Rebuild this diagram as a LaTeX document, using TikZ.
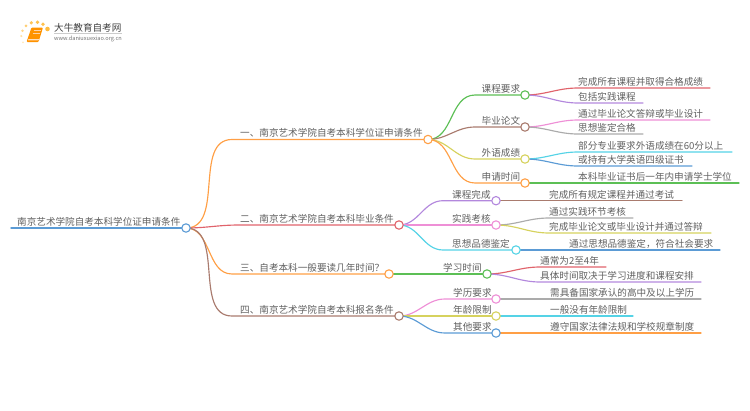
\documentclass[tikz,border=0pt]{standalone}
\usepackage{fontspec}
\setmainfont{Noto Sans CJK SC}
\usetikzlibrary{backgrounds}
\definecolor{cOrange}{HTML}{FF9F45}
\definecolor{cRed}{HTML}{E0636B}
\definecolor{cBrown}{HTML}{A97B6E}
\definecolor{cGreen}{HTML}{5CBF55}
\definecolor{cYellow}{HTML}{D6D25E}
\definecolor{cPurple}{HTML}{B388DD}
\definecolor{cPink}{HTML}{EE8FD6}
\definecolor{cGrey}{HTML}{ABABAB}
\definecolor{cCyan}{HTML}{55D3E6}
\definecolor{cBlue}{HTML}{5B9BD5}
\definecolor{cText}{HTML}{606060}
\tikzset{
  dot/.style={circle,draw=#1,fill=white,line width=1.1pt,minimum size=8.4pt,inner sep=0pt},
  lab/.style={anchor=base west,inner sep=0pt,text=cText,font=\fontsize{9.6pt}{10pt}\selectfont},
  conn/.style={draw=#1,line width=1.15pt,line cap=round},
  logodot/.style={circle,inner sep=0pt,fill=#1}
}
% \mm{name}{x}{y}{colour}{bendx}{parent}: circle node and its curved connector
\newcommand{\mm}[6]{%
  \node[dot=#4] (#1) at (#2,#3) {};
  \coordinate (#1b) at (#5,#3);
  \begin{scope}[on background layer]
    \draw[conn=#4] (#6.center) to[out=0,in=180] (#1b) -- (#1.center);
  \end{scope}}
% \lf{name}{startx}{y}{endx}{colour}{parent}{text}: leaf text with underline connector
\newcommand{\lf}[7]{%
  \node[lab] (#1) at (#2,#3-2.6) {#7};
  \coordinate (#1b) at (#2,#3);
  \coordinate (#1e) at (#4,#3);
  \begin{scope}[on background layer]
    \draw[conn=#5] (#6.center) to[out=0,in=180] (#1b) -- (#1e);
  \end{scope}}
\begin{document}
\begin{tikzpicture}[x=1pt,y=-1pt]
\useasboundingbox (0,0) rectangle (750,410);
% logo
\foreach \n/\x/\y/\r/\o in {a/47.5/29/4.6/0.75,b/43/24.3/3.8/0.7,c/37.5/22.3/3.8/0.7,d/31.3/22.8/3.6/0.65,e/26/25.8/3/0.55,f/22.5/30.7/2.6/0.45,g/21.3/36/2.4/0.35,h/23/42.3/2/0.25}
  \node[logodot=orange!70!yellow,minimum size=\r pt,opacity=\o] (logo\n) at (\x,\y) {};
\fill[orange!85!yellow,rounded corners=1pt] (31.5,27.5) -- (43,27.5) -- (38.5,42) -- (26.5,42) -- cycle;
\fill[white!75!orange] (28.5,39) -- (39,39) -- (38.6,40.4) -- (28,40.4) -- cycle;
\draw[white!65!orange,line width=.5pt] (33.5,30.5) -- (40.5,30.5) (32.7,33) -- (39.7,33);
\node[lab,text=black!75,font=\fontsize{9.6pt}{10pt}\selectfont] (logot) at (54,31) {大牛教育自考网};
\draw[black!20,line width=.5pt] (54,33.5) -- (122,33.5);
\node[lab,text=black!55,font=\fontsize{5.6pt}{6pt}\selectfont] (logou) at (54,40) {www.daniuxuexiao.org.cn};
% root
\node[dot=cBlue] (root) at (186,228) {};
\coordinate (rootl) at (11,228);
\begin{scope}[on background layer]
  \draw[conn=cBlue,line width=1.4pt] (rootl) -- (root.center);
\end{scope}
\node[lab] (roott) at (17,225.4) {南京艺术学院自考本科学位证申请条件};
% level 1
\mm{A}{428}{139.5}{cOrange}{232}{root}
\mm{B}{399}{225}{cRed}{239}{root}
\mm{C}{389}{274}{cOrange}{232}{root}
\mm{D}{399}{316}{cBrown}{232}{root}
\node[lab] (At) at (240,136.9) {一、南京艺术学院自考本科学位证申请条件};
\node[lab] (Bt) at (240,222.4) {二、南京艺术学院自考本科毕业条件};
\node[lab] (Ct) at (240,271.4) {三、自考本科一般要读几年时间？};
\node[lab] (Dt) at (240,313.4) {四、南京艺术学院自考本科报名条件};
% children of A
\mm{A1}{525}{95}{cGreen}{475}{A}
\mm{A2}{525}{127}{cBrown}{475}{A}
\mm{A3}{525}{159}{cYellow}{475}{A}
\mm{A4}{525}{183}{cOrange}{475}{A}
\node[lab] (A1t) at (481.5,92.4) {课程要求};
\node[lab] (A2t) at (481.5,124.4) {毕业论文};
\node[lab] (A3t) at (481.5,156.4) {外语成绩};
\node[lab] (A4t) at (481.5,180.4) {申请时间};
\lf{A1a}{578}{88}{710}{cRed}{A1}{完成所有课程并取得合格成绩}
\lf{A1b}{578}{103}{643}{cPurple}{A1}{包括实践课程}
\lf{A2a}{578}{120}{710}{cPink}{A2}{通过毕业论文答辩或毕业设计}
\lf{A2b}{578}{134}{643}{cGrey}{A2}{思想鉴定合格}
\lf{A3a}{578}{152}{732}{cCyan}{A3}{部分专业要求外语成绩在60分以上}
\lf{A3b}{578}{166}{692}{cBlue}{A3}{或持有大学英语四级证书}
\lf{A4a}{578}{183}{739}{cGreen}{A4}{本科毕业证书后一年内申请学士学位}
% children of B
\mm{B1}{496}{200.7}{cPurple}{443}{B}
\mm{B2}{496}{225}{cPink}{443}{B}
\mm{B3}{516}{250}{cCyan}{443}{B}
\node[lab] (B1t) at (452,198.1) {课程完成};
\node[lab] (B2t) at (452,222.4) {实践考核};
\node[lab] (B3t) at (452,247.4) {思想品德鉴定};
\lf{B1a}{549}{200.7}{682}{cBrown}{B1}{完成所有规定课程并通过考试}
\lf{B2a}{549}{218}{633}{cGrey}{B2}{通过实践环节考核}
\lf{B2b}{549}{233}{711}{cYellow}{B2}{完成毕业论文或毕业设计并通过答辩}
\lf{B3a}{569}{250}{720}{cBlue}{B3}{通过思想品德鉴定，符合社会要求}
% child of C
\mm{C1}{487}{274}{cGreen}{435}{C}
\node[lab] (C1t) at (443,271.4) {学习时间};
\lf{C1a}{540}{267}{606}{cRed}{C1}{通常为2至4年}
\lf{C1b}{540}{282}{701}{cPurple}{C1}{具体时间取决于学习进度和课程安排}
% children of D
\mm{D1}{496}{299}{cPink}{445}{D}
\mm{D2}{496}{316}{cYellow}{445}{D}
\mm{D3}{496}{333}{cBlue}{445}{D}
\node[lab] (D1t) at (453,296.4) {学历要求};
\node[lab] (D2t) at (453,313.4) {年龄限制};
\node[lab] (D3t) at (453,330.4) {其他要求};
\lf{D1a}{550}{299}{701}{cGrey}{D1}{需具备国家承认的高中及以上学历}
\lf{D2a}{550}{316}{633}{cCyan}{D2}{一般没有年龄限制}
\lf{D3a}{550}{333}{701}{cOrange}{D3}{遵守国家法律法规和学校规章制度}
\end{tikzpicture}
\end{document}
